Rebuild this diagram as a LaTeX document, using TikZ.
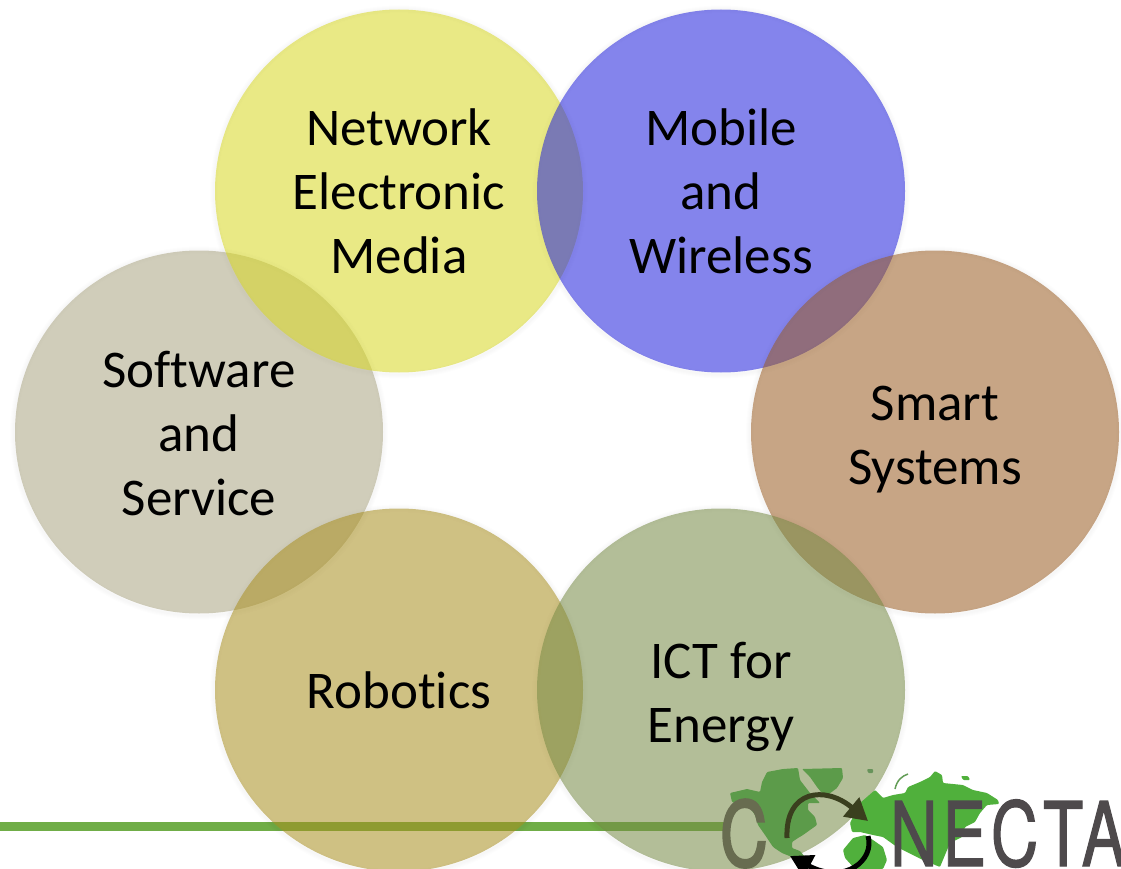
\documentclass[tikz,border=0pt]{standalone}
\usepackage{fontspec}
\setmainfont[Ligatures=NoCommon]{Carlito}
\newfontfamily\logofont[FakeBold=1.5,LetterSpace=7]{TeX Gyre Heros}
\usetikzlibrary{shapes.geometric,arrows.meta}
\definecolor{cyellow}{RGB}{215,215,33}
\definecolor{cblue}{RGB}{31,31,220}
\definecolor{cbrown}{RGB}{153,91,33}
\definecolor{cgray}{RGB}{170,164,130}
\definecolor{crobot}{RGB}{168,142,30}
\definecolor{cict}{RGB}{117,137,68}
\definecolor{cline}{RGB}{112,173,71}
\definecolor{cmapw}{RGB}{92,155,74}
\definecolor{cmape}{RGB}{80,176,60}
\definecolor{clogo}{RGB}{78,74,76}
\definecolor{clogoc}{RGB}{104,108,80}
\definecolor{cswirl}{RGB}{58,63,30}
\newcommand{\dropA}{\rule{0pt}{50pt}}
\tikzset{
  x=1pt,y=-1pt,
  topic/.style={ellipse,minimum width=368pt,minimum height=363pt,inner sep=0pt,fill=#1,fill opacity=.55,text opacity=1,text=black,align=center,
    font=\fontsize{53}{64}\selectfont},
  halo/.style={draw=black,opacity=.009},
  land/.style={draw=none,line join=round,rounded corners=1pt},
  logotext/.style={inner sep=0pt,anchor=base west,font=\logofont\fontsize{89}{89}\selectfont,xscale=.74},
  swirl/.style={line width=5pt,line cap=butt},
  swirlhead/.style={-{Triangle[length=22pt,width=24pt]}},
}
\begin{document}
\begin{tikzpicture}
\useasboundingbox (0,0) rectangle (1121,869);
\clip (0,0) rectangle (1121,869);
\coordinate (lineL) at (0,826);
\coordinate (lineR) at (726,826);
\draw[cline,line width=9pt] (lineL) -- (lineR);
\foreach \cx/\cy in {199/432,399/191,721/191,935/432,399/690,721/690}
  \foreach \w in {2,4,6,8}
    \draw[halo,line width=\w pt] (\cx,\cy+1) ellipse [x radius=185,y radius=182.5];
\node[topic=cgray] (software) at (199,432) {\rule{0pt}{40pt}Software\\and\\Service};
\node[topic=cyellow] (network) at (399,191) {Network\\Electronic\\Media};
\node[topic=cblue] (mobile) at (721,191) {Mobile\\and\\Wireless};
\node[topic=cbrown] (smart) at (935,432) {\dropA Smart\\Systems};
\node[topic=crobot] (robotics) at (399,690) {Robotics};
\node[topic=cict] (ict) at (721,690) {\dropA ICT for\\Energy};
% logo: map
\fill[land,cmapw] (802,769) -- (842,768) -- (843,778) -- (837,788) -- (825,797) -- (817,787) -- (810,777) -- cycle;
\fill[land,cmapw] (730,793) -- (747,789) -- (760,792) -- (762,782) -- (767,772) -- (783,769) -- (798,768) -- (800,780) -- (810,793) -- (820,803) -- (808,803) -- (808,810) -- (815,817) -- (817,825) -- (803,835) -- (798,838) -- (792,842) -- (792,848) -- (800,851) -- (805,857) -- (792,857) -- (782,853) -- (773,847) -- (765,835) -- (758,825) -- (755,815) -- (750,808) -- (740,805) -- (732,802) -- cycle;
\fill[land,cmape] (850,823) -- (860,803) -- (875,790) -- (883,798) -- (893,795) -- (905,793) -- (908,787) -- (920,782) -- (930,777) -- (935,771) -- (942,775) -- (943,783) -- (963,785) -- (973,790) -- (987,793) -- (998,800) -- (999,804) -- (987,805) -- (980,813) -- (975,822) -- (965,827) -- (962,837) -- (950,843) -- (940,867) -- (923,860) -- (897,847) -- (883,837) -- (873,835) -- (860,832) -- (852,832) -- cycle;
\fill[land,cmape] (843,850) -- (853,838) -- (865,835) -- (873,840) -- (883,847) -- (887,860) -- (883,869) -- (855,869) -- (845,858) -- cycle;
\fill[land,cmape] (961,776) -- (968,776) -- (970,780) -- (963,780) -- cycle;
\fill[land,cmapw!70!gray] (867,769) -- (873,769) -- (873,773) -- (868,773) -- cycle;
\draw[cmape!60!gray,line width=1.5pt] (895,789) .. controls (897,780) and (902,776) .. (908,774);
% logo: letters
\node[logotext,text=clogoc] (logoC) at (720,866) {\addfontfeature{FakeBold=3}C};
\node[logotext,text=clogo] (logoN) at (890,866) {NECTA};
% logo: swirl
\coordinate (a1) at (787,838);
\coordinate (a2) at (868,821);
\coordinate (b1) at (868,836);
\coordinate (b2) at (790,856);
\draw[swirl,draw=cswirl,swirlhead] (a1) .. controls (785,790) and (825,785) .. (a2);
\draw[swirl,draw=black,swirlhead] (b1) .. controls (875,860) and (845,885) .. (b2);
\end{tikzpicture}
\end{document}
